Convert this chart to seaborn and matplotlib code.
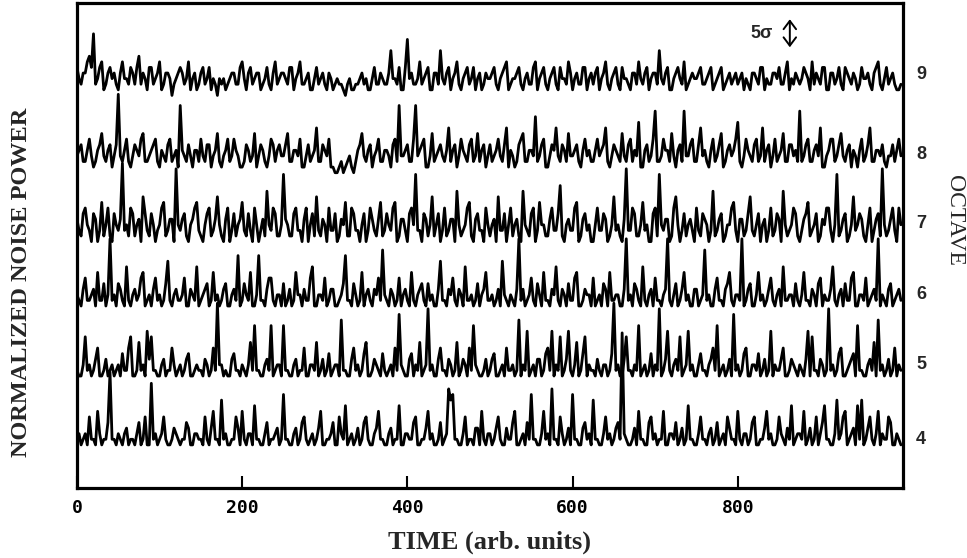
import numpy as np
import pandas as pd
import seaborn as sns
import matplotlib
matplotlib.use("Agg")
import matplotlib.pyplot as plt

# --- data: noise power per octave, in units of sigma, one sample every 2.5 time units ---
time_step = 2.5

oct4 = [1,2,0,1,2,0,5,1,1,0,6,2,0,1,1,4,13,1,1,0,2,1,0,2,3,0,1,1,0,2,4,0,1,5,0,0,11,1,2,0,1,2,5,1,0,0,1,3,2,1,
        0,1,1,4,3,0,0,2,2,1,1,0,5,1,0,3,6,1,1,0,8,1,2,0,0,1,1,5,3,0,6,1,0,2,2,0,7,1,1,0,0,2,4,0,1,1,2,3,0,1,
        9,1,1,0,0,2,3,0,1,4,5,1,0,1,2,0,1,3,6,0,0,1,1,2,4,0,0,5,2,1,7,0,1,2,0,1,3,0,1,4,5,1,0,0,2,3,6,1,1,0,
        0,2,3,0,1,1,7,0,0,2,2,1,1,4,5,0,0,1,1,3,6,1,2,0,0,1,4,0,1,2,10,8,9,1,1,0,0,2,5,0,1,1,0,3,3,0,6,1,0,2,
        2,0,1,3,5,1,0,0,3,1,1,4,6,0,0,1,2,0,4,1,9,1,1,0,0,2,6,1,2,0,10,1,1,0,5,2,0,1,3,0,9,1,1,0,0,3,4,1,2,0,
        8,1,1,0,0,2,5,1,2,0,1,3,4,1,20,2,1,0,0,1,3,0,6,1,1,0,0,4,5,1,2,0,1,1,6,0,0,2,2,1,4,0,1,3,0,1,7,1,1,0,
        0,2,5,1,1,0,2,3,0,1,4,0,1,2,0,5,3,1,1,0,6,1,0,2,2,0,1,4,5,0,0,1,1,3,6,1,2,0,0,1,5,2,1,0,3,1,7,0,1,2,
        2,1,6,0,1,3,0,1,5,0,2,4,7,1,1,0,0,2,8,1,2,5,6,0,1,2,3,0,7,1,8,0,1,3,5,1,0,2,6,0,2,1,1,5,4,0,0,2,1,0]

oct5 = [1,0,0,2,7,1,2,0,1,3,5,0,0,1,3,0,1,2,0,1,2,0,4,1,1,5,7,0,0,1,6,1,2,0,8,3,7,1,1,0,0,2,3,0,1,1,5,2,0,1,
        2,0,1,3,4,0,0,1,2,1,1,0,3,2,0,1,5,1,13,2,2,0,1,0,0,3,4,1,1,0,2,1,0,2,6,1,9,1,1,0,0,2,3,1,9,0,1,2,2,0,
        9,1,1,0,0,2,3,0,1,1,5,0,0,2,2,1,6,0,1,3,0,1,4,0,1,2,2,0,10,1,1,0,0,3,5,1,2,0,1,4,6,0,0,1,3,2,1,0,4,1,
        0,1,2,0,5,1,11,2,1,0,0,3,4,0,2,1,6,0,1,2,12,1,2,0,0,3,5,1,1,0,3,2,0,1,6,0,1,3,2,0,5,1,9,2,1,0,0,1,3,0,
        1,3,4,0,0,1,2,0,5,1,1,2,0,1,10,0,2,1,8,0,1,2,0,3,3,0,1,4,5,1,8,0,2,1,7,0,1,3,8,1,0,2,6,0,1,4,7,0,2,1,
        1,0,3,1,0,2,2,0,1,4,13,1,2,0,0,3,7,1,1,0,2,1,9,0,1,2,0,1,4,0,2,1,12,0,1,3,8,1,0,2,3,1,7,0,1,2,8,1,2,0,
        0,2,4,1,1,0,2,3,5,1,9,0,1,2,0,1,3,0,11,1,2,0,1,4,5,0,0,2,2,1,4,0,1,3,0,1,8,0,2,1,1,3,5,0,0,1,3,2,1,0,
        2,1,0,3,8,0,7,1,1,0,3,2,0,1,12,1,2,0,1,4,5,0,0,1,2,3,4,0,9,1,1,0,0,2,3,1,6,0,10,1,2,0,1,3,0,1,5,0,2,1]

oct6 = [2,1,0,3,5,1,1,2,3,0,6,1,1,4,0,2,12,1,2,0,4,3,1,0,7,1,0,2,3,1,2,5,6,0,1,2,0,3,5,1,2,0,1,4,8,1,0,2,3,1,
        1,2,5,0,0,3,2,1,7,0,1,2,3,4,0,1,6,1,2,0,1,3,4,0,0,2,3,1,9,0,1,4,2,1,6,0,0,2,9,1,1,0,3,5,5,1,0,2,2,0,
        4,0,1,3,0,1,6,2,2,0,3,1,1,5,7,0,0,2,2,1,5,0,1,3,3,0,0,1,2,4,9,1,1,0,4,2,0,1,6,0,2,3,1,0,3,2,5,1,10,2,
        1,0,3,2,0,1,5,0,2,3,1,0,6,1,0,2,3,4,1,0,4,1,2,0,0,3,8,1,1,0,3,2,5,1,0,3,2,0,7,1,1,2,0,1,4,0,2,3,6,1,
        1,2,0,1,3,0,8,2,1,0,2,1,0,3,12,1,3,0,1,2,5,1,0,4,2,0,6,1,1,0,3,2,7,1,0,3,2,0,4,1,1,5,6,0,0,1,3,2,2,0,
        5,0,1,2,0,4,3,0,6,1,1,2,2,0,0,3,12,1,2,0,4,3,1,0,7,1,0,2,3,0,5,1,1,0,2,3,12,1,0,2,4,0,1,3,6,1,2,0,0,3,
        3,0,1,2,10,1,2,0,0,3,5,1,1,0,3,4,6,1,0,2,2,1,12,0,1,3,4,0,0,2,6,1,2,0,1,3,5,1,0,2,3,0,7,1,1,2,2,0,4,1,
        0,2,6,1,1,0,3,2,0,4,5,0,2,1,1,3,7,1,0,2,3,0,4,1,1,5,6,0,0,2,2,1,5,0,1,2,3,1,12,0,2,1,0,3,4,0,1,2,3,1]

oct7 = [4,2,1,5,6,3,2,0,5,4,0,2,7,1,3,6,1,0,5,3,2,4,14,2,3,1,6,5,1,3,4,0,8,5,2,1,5,3,0,2,3,6,7,1,2,4,4,0,13,3,
        2,4,5,1,0,3,4,6,7,2,1,0,3,5,6,1,2,4,8,3,1,0,4,6,0,2,5,1,3,4,7,2,1,5,2,0,6,3,0,2,4,1,9,3,2,6,5,1,1,3,
        12,4,3,1,1,5,6,2,2,0,4,6,0,3,5,1,8,2,1,4,3,0,6,2,2,5,0,1,4,3,7,1,1,6,5,2,2,0,3,5,0,2,6,4,2,1,4,7,1,2,
        5,3,2,6,7,0,1,4,4,2,0,5,6,3,12,2,2,0,5,4,1,3,8,1,3,5,0,2,6,1,2,4,4,0,9,3,1,2,3,6,7,1,0,4,5,2,2,0,6,3,
        1,3,4,0,8,2,2,5,0,3,6,1,3,4,1,0,9,3,2,1,5,6,0,2,7,3,3,1,1,4,6,2,2,5,10,1,0,3,4,2,2,6,7,0,1,4,5,2,3,0,
        0,3,6,2,2,5,4,0,1,3,8,2,3,1,0,4,13,2,2,6,5,1,1,3,7,2,3,0,0,5,6,1,12,3,2,4,4,0,1,6,8,3,0,2,5,1,3,4,2,0,
        6,2,1,5,4,3,0,2,9,1,2,4,5,0,1,3,3,6,7,2,0,4,4,1,2,5,8,2,1,3,5,0,3,4,0,2,6,1,2,5,4,0,9,3,1,2,3,6,5,1,
        0,2,4,5,7,1,2,3,5,0,1,4,3,6,6,2,0,3,12,1,2,4,5,0,1,3,8,2,3,5,4,1,0,3,6,0,2,4,5,1,13,3,1,2,4,6,2,0,6,3]

oct8 = [3,4,5,2,2,4,6,3,1,2,4,5,7,3,2,4,5,1,3,5,14,3,2,4,6,2,1,3,5,4,3,6,7,2,2,3,4,5,6,2,1,4,3,2,5,6,2,3,4,1,
        12,4,3,2,5,3,1,4,4,2,6,3,2,5,5,1,3,4,7,2,1,3,4,6,2,3,6,4,3,1,1,2,5,4,2,3,7,1,3,5,4,2,1,3,6,5,2,4,5,3,
        3,5,7,2,2,4,4,3,6,1,1,3,5,2,3,4,8,2,2,5,4,3,6,1,1,0,0,1,2,0,1,2,3,1,0,2,4,5,7,3,2,4,5,1,3,4,6,2,2,4,
        4,3,1,5,6,2,12,3,3,4,5,2,2,6,12,3,4,5,6,1,1,3,7,2,3,4,5,3,2,4,8,2,4,5,1,3,6,4,3,2,5,6,2,3,7,2,4,5,1,3,
        5,2,3,4,6,3,2,5,8,1,4,3,1,2,5,6,7,2,2,4,4,3,10,2,3,5,6,1,1,3,5,4,8,3,2,5,4,2,7,3,3,4,5,2,1,4,6,3,4,2,
        2,4,6,3,4,5,8,2,1,3,5,4,3,2,7,3,2,5,6,2,4,3,9,1,1,4,5,2,3,6,11,2,2,3,6,4,4,2,7,3,1,4,5,2,11,3,3,5,6,2,
        2,5,8,3,4,2,1,4,6,2,3,5,7,1,2,4,5,3,4,6,9,2,1,3,6,4,3,2,5,6,2,3,8,2,4,5,1,3,6,2,3,4,7,2,2,5,5,3,4,2,
        11,2,3,5,6,2,2,4,5,3,8,1,1,3,4,6,6,2,3,5,7,3,2,4,5,1,4,3,1,4,6,2,3,5,8,2,2,4,4,3,5,2,1,3,3,5,2,4,6,3]

oct9 = [6,4,3,5,5,7,8,6,12,3,4,6,7,2,3,5,6,4,5,3,2,5,7,4,4,3,6,5,3,6,8,3,5,4,2,6,6,3,4,5,7,2,3,5,5,4,1,3,4,5,
        6,5,3,4,7,2,4,5,2,3,5,6,3,4,6,2,4,3,1,4,3,4,2,3,4,5,5,3,3,6,7,4,2,5,6,3,4,5,5,2,3,4,6,3,2,5,7,3,4,5,
        5,4,3,6,6,2,4,5,7,3,3,4,5,2,2,4,6,3,4,5,3,2,5,4,2,3,4,3,3,2,1,3,4,2,2,3,3,4,5,3,4,2,2,4,6,3,3,5,4,3,
        3,5,9,4,4,3,6,2,2,6,11,4,5,3,3,4,7,3,4,5,6,2,2,5,5,3,9,4,3,5,6,2,4,5,7,3,2,4,5,6,3,4,6,2,4,5,2,3,5,4,
        4,5,6,3,2,4,5,6,7,2,3,4,4,5,6,3,2,4,5,3,3,6,7,2,4,5,6,3,2,4,5,6,3,2,6,4,4,3,7,5,2,4,5,3,3,6,6,2,4,5,
        3,5,6,2,4,5,7,3,2,4,5,6,3,2,6,4,4,3,2,5,5,3,7,4,3,5,6,2,4,5,5,3,9,4,3,5,6,2,2,4,5,6,4,3,7,2,3,4,5,4,
        4,5,6,3,3,4,5,6,2,3,4,5,6,2,3,4,5,3,4,5,3,4,5,2,4,3,2,5,5,4,3,6,6,2,4,3,3,5,5,4,6,3,3,5,7,2,4,3,5,4,
        3,4,6,5,4,2,7,3,5,4,3,6,6,2,2,5,5,3,4,6,3,2,6,5,4,3,5,4,2,3,6,4,4,5,3,2,5,6,7,3,2,4,6,3,4,5,3,2,2,3]

octaves = [4, 5, 6, 7, 8, 9]
traces = [oct4, oct5, oct6, oct7, oct8, oct9]
xticks = [0, 200, 400, 600, 800]

# layout: vertical position (sigma) of each trace floor and of its octave label
trace_floor = {4: -0.9, 5: 11.4, 6: 23.9, 7: 35.4, 8: 47.7, 9: 60.5}
label_pos = {4: 0.0, 5: 13.4, 6: 25.9, 7: 38.6, 8: 50.9, 9: 65.2}

frames = []
for octv, vals in zip(octaves, traces):
    frames.append(pd.DataFrame({"time": np.arange(len(vals)) * time_step,
                                "octave": octv, "power": vals}))
df = pd.concat(frames, ignore_index=True)
df["y"] = df["power"] + df["octave"].map(trace_floor)

sns.set_style("white")
plt.rcParams["font.family"] = ["DejaVu Sans"]

fig = plt.figure(figsize=(9.67, 5.58), dpi=100)
ax = fig.add_axes([0.0796, 0.1254, 0.8542, 0.8692])

sns.lineplot(data=df, x="time", y="y", units="octave", estimator=None,
             color="black", lw=2.0, ax=ax, legend=False)

ax.set_xlim(0, 1000)
ax.set_ylim(-8.6, 78)
ax.set_yticks([])
ax.set_ylabel("")
ax.set_xticks(xticks)
ax.set_xticklabels([str(t) for t in xticks], family="DejaVu Sans Mono",
                   fontsize=13, fontweight="bold")
ax.tick_params(axis="x", direction="in", length=9, width=1.5, pad=8,
               bottom=True, colors="black")
for s in ax.spines.values():
    s.set_visible(True)
    s.set_color("black")
    s.set_linewidth(2.3)

ax.set_xlabel("TIME (arb. units)", family="Liberation Serif", fontweight="bold",
              fontsize=19, labelpad=10)
fig.text(22 / 967, 1 - 282 / 558, "NORMALIZED NOISE POWER", rotation=90,
         ha="center", va="center", family="Liberation Serif",
         fontweight="bold", fontsize=17.5)
fig.text(955 / 967, 1 - 220 / 558, "OCTAVE", rotation=-90, ha="center",
         va="center", family="Liberation Serif", fontsize=17)

# octave labels on the right
for octv in octaves:
    ax.text(1016, label_pos[octv], str(octv), ha="left", va="center",
            fontsize=13, fontweight="bold", family="Liberation Sans")

# 5 sigma scale bar
ax.annotate("", xy=(863, 75.6), xytext=(863, 69.6),
            arrowprops=dict(arrowstyle="<->,head_width=0.45,head_length=0.6",
                            lw=1.4, color="black"))
ax.text(843, 72.5, "5\u03c3", ha="right", va="center", fontsize=13,
        fontweight="bold", family="Liberation Sans")

fig.savefig("out.png", dpi=100)
